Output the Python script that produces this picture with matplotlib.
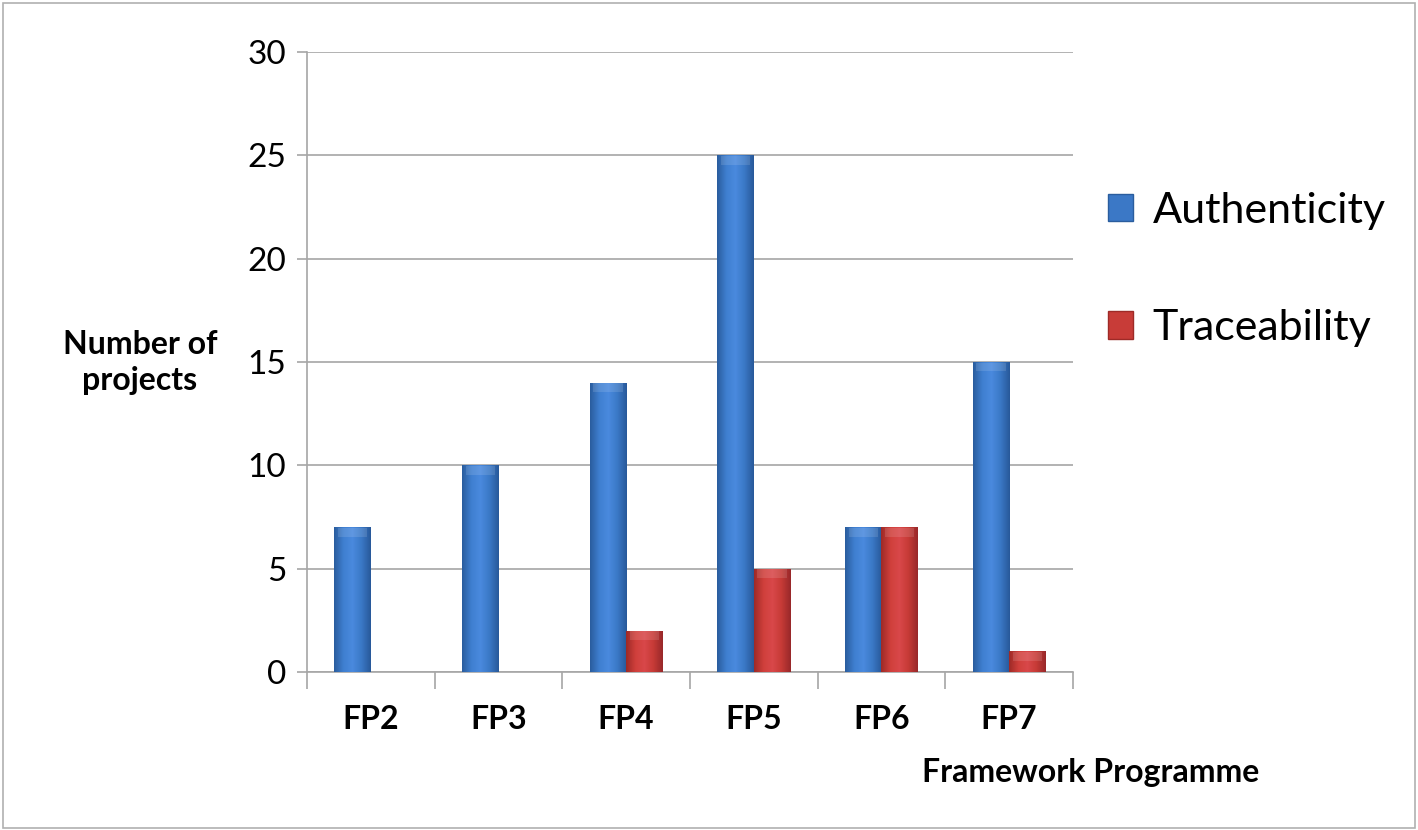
import matplotlib
matplotlib.use("Agg")
import matplotlib.pyplot as plt
import numpy as np
from matplotlib.colors import LinearSegmentedColormap
from matplotlib.patches import Rectangle

plt.rcParams["font.family"] = ["Lato", "DejaVu Sans"]

programmes = ["FP2", "FP3", "FP4", "FP5", "FP6", "FP7"]
authenticity = [7, 10, 14, 25, 7, 15]
traceability = [0, 0, 2, 5, 7, 1]
series_names = ["Authenticity", "Traceability"]

# dark edge -> light centre -> dark edge, Excel-style bevelled bars
blue_cmap = LinearSegmentedColormap.from_list(
    "blue_bar", ["#2a5d9e", "#3f7fd0", "#4a8ade", "#3a78c6", "#28599a"])
red_cmap = LinearSegmentedColormap.from_list(
    "red_bar", ["#9e2a27", "#cf3f3b", "#d9484a", "#c63a36", "#98282a"])

fig = plt.figure(figsize=(14.18, 8.30), dpi=100)
ax = fig.add_axes([0.2165, 0.1904, 0.5402, 0.7469])

x = np.arange(len(programmes))
width = 1 / 3.5


def shade_bars(bars, cmap):
    grad = np.linspace(0, 1, 64).reshape(1, -1)
    for bar in bars:
        h = bar.get_height()
        if h <= 0:
            continue
        x0 = bar.get_x()
        w = bar.get_width()
        img = ax.imshow(grad, cmap=cmap, aspect="auto",
                        extent=(x0, x0 + w, 0, h), zorder=3)
        img.set_clip_path(bar)
        bar.set_facecolor("none")
        # lighter bevel along the top edge
        ax.add_patch(Rectangle((x0 + w * 0.1, h - 0.45), w * 0.8, 0.42,
                               facecolor="white", alpha=0.12,
                               edgecolor="none", zorder=4))


b1 = ax.bar(x - width / 2, authenticity, width, color="#3b78c6",
            edgecolor="none", zorder=3, label=series_names[0])
b2 = ax.bar(x + width / 2, traceability, width, color="#c83c38",
            edgecolor="none", zorder=3, label=series_names[1])
shade_bars(b1, blue_cmap)
shade_bars(b2, red_cmap)

ax.set_xlim(-0.5, len(programmes) - 0.5)
ax.set_ylim(0, 30)
ax.set_yticks(range(0, 31, 5))
ax.grid(axis="y", color="#a6a6a6", linewidth=1.2, zorder=0)
ax.set_axisbelow(True)

ax.set_xticks(x)
ax.set_xticklabels(programmes, fontsize=23, fontweight="bold")
ax.set_xticks(np.arange(-0.5, len(programmes)), minor=True)
ax.tick_params(axis="x", which="major", length=0, pad=24)
ax.tick_params(axis="x", which="minor", length=12, width=1.2,
               color="#a6a6a6", direction="out")
ax.tick_params(axis="y", length=7, width=1.2, color="#a6a6a6",
               labelsize=24, pad=8)

for side in ["top", "right"]:
    ax.spines[side].set_visible(False)
for side in ["left", "bottom"]:
    ax.spines[side].set_color("#a6a6a6")
    ax.spines[side].set_linewidth(1.2)

fig.text(0.0987, 0.563, "Number of\nprojects", fontsize=23,
         fontweight="bold", ha="center", va="center", linespacing=1.3)
fig.text(0.769, 0.069, "Framework Programme", fontsize=23,
         fontweight="bold", ha="center", va="center")

handles = [Rectangle((0, 0), 1, 1, facecolor="#3b78c6", edgecolor="#2a5d9e"),
           Rectangle((0, 0), 1, 1, facecolor="#c83c38", edgecolor="#9e2a27")]
fig.legend(handles, series_names, loc="upper left",
           bbox_to_anchor=(0.769, 0.79), frameon=False, fontsize=31,
           handlelength=0.6, handleheight=0.6, handletextpad=0.45,
           labelspacing=1.85, borderaxespad=0)

# thin frame round the whole picture
fig.add_artist(Rectangle((0.002, 0.002), 0.996, 0.994,
                         transform=fig.transFigure, fill=False,
                         edgecolor="#b0b0b0", linewidth=1.2))

fig.savefig("out.png", dpi=100)
